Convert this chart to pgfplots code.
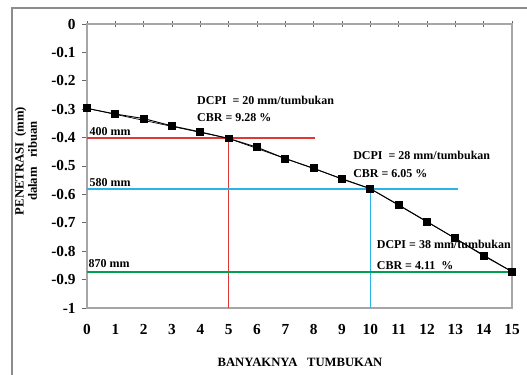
\documentclass[border=0pt]{standalone}
\usepackage{fontspec}
\setmainfont{Liberation Serif}
\usepackage{pgfplots}
\pgfplotsset{compat=1.18}
\definecolor{cred}{RGB}{225,55,55}
\definecolor{ccyan}{RGB}{40,180,230}
\definecolor{cgreen}{RGB}{0,160,80}
\definecolor{cframe}{RGB}{140,140,140}
\begin{document}
\begin{tikzpicture}
\path[use as bounding box] (-65.25pt,-49.5pt) rectangle (330pt,231pt);
\begin{axis}[
  at={(0,0)}, anchor=south west,
  scale only axis, width=318.75pt, height=213pt,
  xmin=0, xmax=15, ymin=-1, ymax=0,
  clip=false,
  xtick={0,...,15},
  ytick={0,-0.1,-0.2,-0.3,-0.4,-0.5,-0.6,-0.7,-0.8,-0.9,-1},
  yticklabels={0,-0.1,-0.2,-0.3,-0.4,-0.5,-0.6,-0.7,-0.8,-0.9,-1},
  xtick pos=upper, xticklabel pos=lower,
  ytick pos=left,
  x tick style={gray!80!black, line width=0.6pt},
  y tick style={gray!80!black, line width=0.6pt},
  major tick length=4pt,
  xtick align=center, ytick align=outside,
  axis line style={gray!70, line width=0.8pt},
  /pgf/number format/assume math mode=true,
  tick label style={font=\fontsize{11.5}{12}\selectfont\bfseries},
  xticklabel style={yshift=-7pt},
  yticklabel style={xshift=-1pt},
]
\addplot[cred, line width=1.4pt] coordinates {(0,-0.4) (8.05,-0.4)};
\addplot[cred, line width=1.2pt] coordinates {(5,-0.4) (5,-1)};
\addplot[ccyan, line width=1.4pt] coordinates {(0,-0.58) (13.1,-0.58)};
\addplot[ccyan, line width=1.2pt] coordinates {(10,-0.58) (10,-1)};
\addplot[cgreen, line width=1.6pt] coordinates {(0,-0.872) (15,-0.872)};
\addplot[black, line width=0.5pt] coordinates {(0,-0.297) (5,-0.403) (10,-0.58) (15,-0.872)};
\addplot[black, line width=0.7pt, mark=square*, mark size=2.6pt] coordinates {
(0,-0.297) (1,-0.317) (2,-0.333) (3,-0.359) (4,-0.380) (5,-0.403)
(6,-0.434) (7,-0.474) (8,-0.508) (9,-0.546) (10,-0.580) (11,-0.637)
(12,-0.696) (13,-0.755) (14,-0.816) (15,-0.872)};
\tikzset{ann/.style={anchor=west, inner sep=0pt, font=\fontsize{9}{9}\selectfont\bfseries}}
\node[ann] at (axis cs:3.88,-0.268) {DCPI\ \ = 20 mm/tumbukan};
\node[ann] at (axis cs:3.88,-0.331) {CBR\ = 9.28 \%};
\node[ann] at (axis cs:9.39,-0.461) {DCPI\ \ = 28 mm/tumbukan};
\node[ann] at (axis cs:9.39,-0.528) {CBR\ = 6.05 \%};
\node[ann] at (axis cs:10.22,-0.775) {DCPI\ = 38 mm/tumbukan};
\node[ann] at (axis cs:10.22,-0.851) {CBR\ = 4.11\ \ \%};
\node[ann] at (axis cs:0.08,-0.379) {400 mm};
\node[ann] at (axis cs:0.08,-0.56) {580 mm};
\node[ann] at (axis cs:0.05,-0.845) {870 mm};
\draw[cframe, line width=1.5pt] (rel axis cs:-0.177,-0.25) -- (rel axis cs:-0.177,1.056) -- (rel axis cs:1.05,1.056);
\end{axis}
\node[rotate=90, align=center, font=\fontsize{9.5}{10}\selectfont\bfseries] at (-45.75pt,110.25pt) {PENETRASI\ \ (mm)\\dalam\ \ \ ribuan};
\node[font=\fontsize{9.5}{10}\selectfont\bfseries] at (159.75pt,-40.5pt) {BANYAKNYA\ \ \ TUMBUKAN};
\end{tikzpicture}
\end{document}
